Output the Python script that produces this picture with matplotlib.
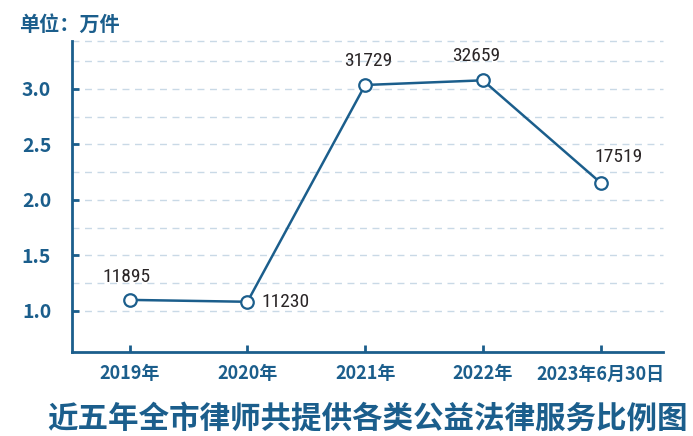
import matplotlib
matplotlib.use("Agg")
import matplotlib.pyplot as plt
from matplotlib.ticker import FixedLocator

categories = ["2019年", "2020年", "2021年", "2022年", "2023年6月30日"]
values = [1.097, 1.080, 3.036, 3.078, 2.154]
labels = ["11895", "11230", "31729", "32659", "17519"]
yticks = [1.0, 1.5, 2.0, 2.5, 3.0]
ytick_labels = ["1.0", "1.5", "2.0", "2.5", "3.0"]
grid_levels = [1.0, 1.25, 1.5, 1.75, 2.0, 2.25, 2.5, 2.75, 3.0, 3.25]
unit_text = "单位：万件"
title_text = "近五年全市律师共提供各类公益法律服务比例图"

BLUE = "#1b5e8c"
GRID = "#c9d9e6"
LABEL_COLOR = "#2a2526"

cjk = ["Noto Sans CJK SC", "DejaVu Sans"]
narrow = ["Liberation Sans Narrow", "Roboto Condensed", "DejaVu Sans Condensed", "Roboto", "DejaVu Sans"]

fig = plt.figure(figsize=(6.93, 4.36), dpi=100)
ax = fig.add_axes([0.1039, 0.1927, 0.8528, 0.7133])

x = list(range(len(categories)))
ylim = (0.627, 3.433)
ax.set_xlim(-0.49, 4.53)
ax.set_ylim(*ylim)

for g in grid_levels + [ylim[1]]:
    ax.axhline(g, color=GRID, lw=1.0, ls=(0, (5, 4)), zorder=0, clip_on=False)

ax.plot(x, values, color=BLUE, lw=1.8, marker="o", ms=9, mfc="white",
        mec=BLUE, mew=1.6, zorder=3)

offsets = [(-2, 10), (10, 0), (2, 11), (-5, 11), (13, 12)]
has = ["center", "left", "center", "center", "center"]
vas = ["bottom", "center", "bottom", "bottom", "bottom"]
for xi, yi, lab, off, ha, va in zip(x, values, labels, offsets, has, vas):
    ax.annotate(lab, (xi, yi), xytext=off, textcoords="offset points",
                ha=ha, va=va, fontsize=14, color=LABEL_COLOR,
                family=narrow, zorder=4)

for s in ["top", "right"]:
    ax.spines[s].set_visible(False)
for s in ["left", "bottom"]:
    ax.spines[s].set_color(BLUE)
    ax.spines[s].set_linewidth(2.0)

ax.set_xticks(x)
ax.set_xticklabels(categories)
ax.yaxis.set_major_locator(FixedLocator(yticks))
ax.set_yticklabels(ytick_labels)
ax.tick_params(axis="both", direction="in", color=BLUE, width=2.0, length=5,
               labelcolor=BLUE)
ax.tick_params(axis="y", pad=15)
ax.tick_params(axis="x", pad=9)
for t in ax.get_xticklabels():
    t.set_family(cjk)
    t.set_fontweight("bold")
    t.set_fontsize(13)
for t in ax.get_yticklabels():
    t.set_family(cjk)
    t.set_fontweight("bold")
    t.set_fontsize(14)

fig.text(0.027, 0.945, unit_text, family=cjk, fontweight="bold",
         fontsize=14.5, color=BLUE, ha="left", va="center")
fig.text(0.53, 0.040, title_text, family=cjk, fontweight="bold",
         fontsize=22, color=BLUE, ha="center", va="center")

fig.savefig("out.png", dpi=100)
